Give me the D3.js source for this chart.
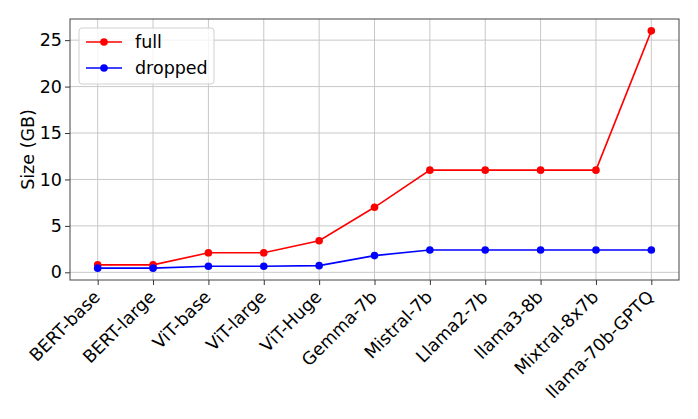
<!DOCTYPE html>
<html><head><meta charset="utf-8">
<script src="https://cdn.jsdelivr.net/npm/d3@7"></script>
<style>body{margin:0;background:#fff}svg{display:block}text{font-family:"DejaVu Sans",sans-serif}</style>
</head><body><svg id="c" width="698" height="419"></svg>
<script>
const categories = ["BERT-base","BERT-large","ViT-base","ViT-large","ViT-Huge","Gemma-7b","Mistral-7b","Llama2-7b","llama3-8b","Mixtral-8x7b","llama-70b-GPTQ"];
const fullValues = [0.8,0.8,2.1,2.1,3.4,7.0,11,11,11,11,26];
const droppedValues = [0.45,0.45,0.65,0.65,0.72,1.8,2.4,2.4,2.4,2.4,2.4];
const yTicks = [0,5,10,15,20,25];
const seriesNames = ["full","dropped"];
const seriesColors = ["#ff0000","#0000ff"];

const FS = 17.5;
const svg = d3.select("#c");
const L = 70, T = 19, R = 679, B = 280;
const x = d3.scaleLinear().domain([-0.5, categories.length - 0.5]).range([L, R]);
const all = fullValues.concat(droppedValues);
const mn = d3.min(all), mx = d3.max(all), pad = (mx - mn) * 0.05;
const y = d3.scaleLinear().domain([mn - pad, mx + pad]).range([B, T]);

// grid
const g = svg.append("g");
g.selectAll(".gx").data(categories).join("line")
  .attr("x1", (d,i)=>x(i)).attr("x2", (d,i)=>x(i)).attr("y1", T).attr("y2", B)
  .attr("stroke", "#c8c8c8").attr("stroke-width", 1);
g.selectAll(".gy").data(yTicks).join("line")
  .attr("x1", L).attr("x2", R).attr("y1", d=>y(d)).attr("y2", d=>y(d))
  .attr("stroke", "#c8c8c8").attr("stroke-width", 1);

// axes
const xAxis = d3.axisBottom(x).tickValues(d3.range(categories.length)).tickFormat(i=>categories[i]).tickSize(5).tickPadding(4);
const xg = svg.append("g").attr("transform", `translate(0,${B})`).call(xAxis);
xg.select(".domain").remove();
xg.selectAll(".tick line").attr("stroke", "#333");
xg.selectAll(".tick text").attr("font-size", FS).attr("fill", "#000")
  .attr("text-anchor", "end").attr("dy", null)
  .attr("transform", "translate(-6,9) rotate(-45)")
  .attr("y", 0).attr("x", 0).attr("dominant-baseline", "hanging");

const yAxis = d3.axisLeft(y).tickValues(yTicks).tickSize(5).tickPadding(3);
const yg = svg.append("g").attr("transform", `translate(${L},0)`).call(yAxis);
yg.select(".domain").remove();
yg.selectAll(".tick line").attr("stroke", "#333");
yg.selectAll(".tick text").attr("font-size", FS).attr("fill", "#000");

svg.append("rect").attr("x", L).attr("y", T).attr("width", R-L).attr("height", B-T)
  .attr("fill", "none").attr("stroke", "#444").attr("stroke-width", 1);

svg.append("text").attr("transform", `translate(28,${(T+B)/2}) rotate(-90)`)
  .attr("text-anchor", "middle").attr("dominant-baseline", "central")
  .attr("font-size", FS).text("Size (GB)");

// series
const line = d3.line().x((d,i)=>x(i)).y(d=>y(d));
[fullValues, droppedValues].forEach((vals, k) => {
  svg.append("path").datum(vals).attr("d", line).attr("fill", "none")
    .attr("stroke", seriesColors[k]).attr("stroke-width", 1.6);
  svg.selectAll(".m"+k).data(vals).join("circle")
    .attr("cx", (d,i)=>x(i)).attr("cy", d=>y(d)).attr("r", 3.8).attr("fill", seriesColors[k]);
});

// legend
const lg = svg.append("g");
lg.append("rect").attr("x", 79).attr("y", 28).attr("width", 135).attr("height", 56).attr("rx", 3)
  .attr("fill", "#fff").attr("fill-opacity", 0.8).attr("stroke", "#d0d0d0");
seriesNames.forEach((n, k) => {
  const yy = 42 + k * 26;
  lg.append("line").attr("x1", 86).attr("x2", 122).attr("y1", yy).attr("y2", yy)
    .attr("stroke", seriesColors[k]).attr("stroke-width", 1.6);
  lg.append("circle").attr("cx", 104).attr("cy", yy).attr("r", 3.8).attr("fill", seriesColors[k]);
  lg.append("text").attr("x", 135).attr("y", yy).attr("dominant-baseline", "central")
    .attr("font-size", FS).text(n);
});
</script></body></html>
